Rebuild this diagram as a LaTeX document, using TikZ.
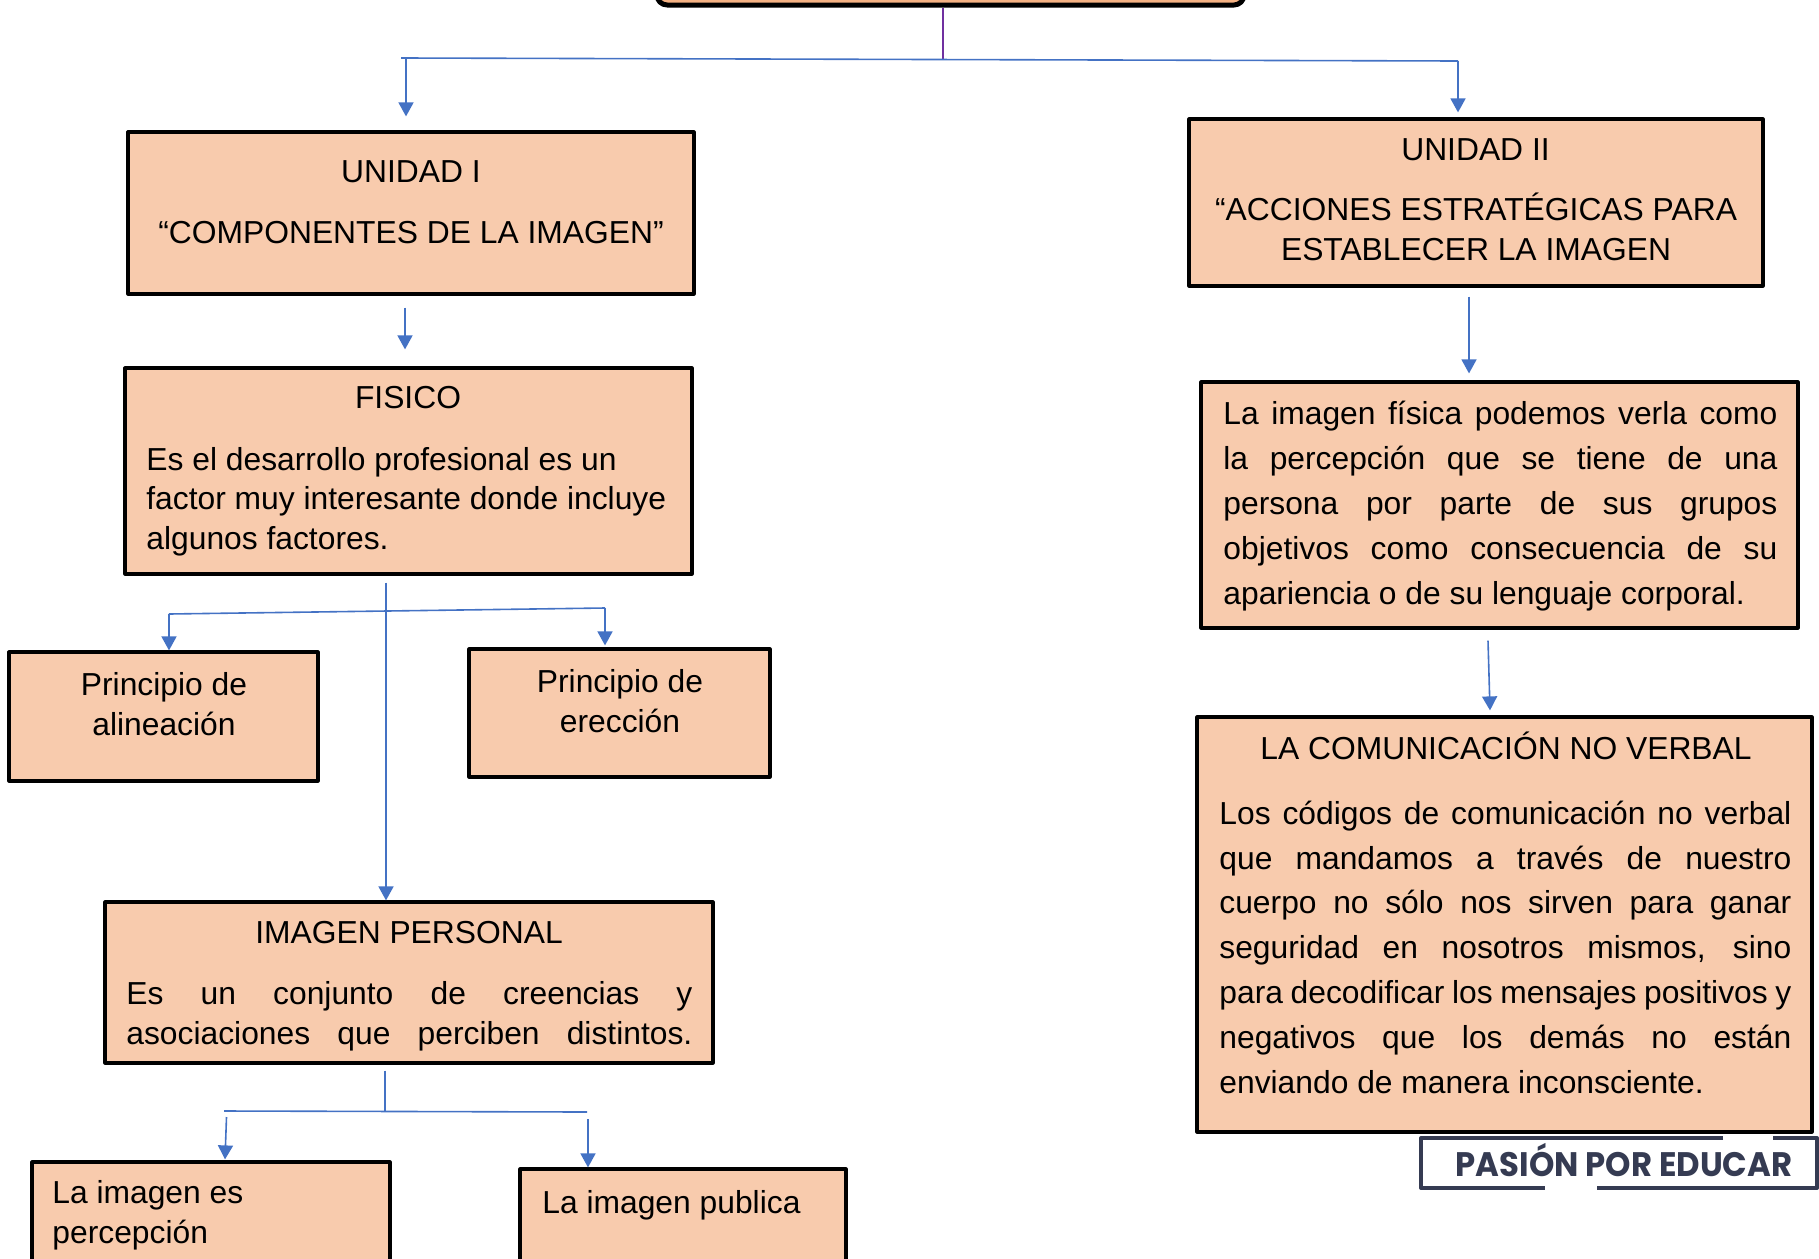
\documentclass[tikz,border=0pt]{standalone}
\usepackage{graphicx}
\usepackage{fontspec}
\setmainfont{Liberation Sans}
\newfontfamily\logofont{Poppins}
\usetikzlibrary{arrows.meta,positioning}
\definecolor{colcaja}{HTML}{F8CBAD}
\definecolor{colraiz}{HTML}{F4B183}
\definecolor{azul}{HTML}{4472C4}
\definecolor{morado}{HTML}{7030A0}
\definecolor{logoazul}{HTML}{353B52}
\newcommand\fs{\fontsize{15.9}{19.75}\selectfont}
\newcommand\fsr{\fontsize{15.9}{22.4}\selectfont}
\newcommand\jl[2]{\makebox[#1][s]{#2}}
\tikzset{
	caja/.style={draw=black, line width=1.6pt, fill=colcaja, inner sep=0pt, rectangle},
	titulo/.style={font=\fs, inner sep=0pt, anchor=base, align=center},
	texto/.style={font=\fs, inner sep=0pt, anchor=base west, align=left},
	textor/.style={font=\fsr, inner sep=0pt, anchor=base west, align=left},
	enlace/.style={draw=azul, line width=0.8pt},
	flecha/.style={enlace, -{Triangle[width=7.5pt,length=7pt]}},
	marco/.style={draw=logoazul, line width=2pt},
}
\begin{document}
\begin{tikzpicture}[x=0.5pt, y=-0.5pt, line join=round]
	\useasboundingbox (0,0) rectangle (1819,1258);
	\clip (0,0) rectangle (1819,1258);
	% caja superior (solo se ve su borde inferior)
	\node[caja, fill=colraiz, line width=2.5pt, rounded corners=5pt, minimum width=293.5pt, minimum height=32.5pt] (raiz) at (950.5,-27.5) {};
	% unidades (textos de varias lineas: ancla en la ultima linea)
	\node[caja, minimum width=283pt, minimum height=81pt] (u1) at (411,213) {};
	\node[titulo] (u1a) at (411,182) {UNIDAD I};
	\node[titulo] (u1b) at (411,243) {“COMPONENTES DE LA IMAGEN”};
	\node[caja, minimum width=287pt, minimum height=83.5pt] (u2) at (1476,202.5) {};
	\node[titulo] (u2a) at (1475.5,160) {UNIDAD II};
	\node[titulo] (u2b) at (1476,260) {“ACCIONES ESTRATÉGICAS PARA\\ESTABLECER LA IMAGEN};
	% rama izquierda
	\node[caja, minimum width=283.5pt, minimum height=103pt] (fis) at (408.5,471) {};
	\node[titulo] (fisa) at (408,408) {FISICO};
	\node[texto] (fisb) at (146,549) {Es el desarrollo profesional es un\\factor muy interesante donde incluye\\algunos factores.};
	\node[caja, minimum width=154.5pt, minimum height=64.5pt] (ali) at (163.5,716.5) {};
	\node[titulo] (alia) at (164,735) {Principio de\\alineación};
	\node[caja, minimum width=150.5pt, minimum height=64pt] (ere) at (619.5,713) {};
	\node[titulo] (erea) at (620,732) {Principio de\\erección};
	\node[caja, minimum width=304pt, minimum height=80.5pt] (ip) at (409,982.5) {};
	\node[titulo] (ipa) at (409,943) {IMAGEN PERSONAL};
	\node[texto] (ipb) at (126,1044) {\jl{283pt}{Es un conjunto de creencias y}\\\jl{283pt}{asociaciones que perciben distintos.}};
	\node[caja, minimum width=179pt, minimum height=69pt] (per) at (211,1231) {};
	\node[texto] (pera) at (52,1243) {La imagen es\\percepción};
	\node[caja, minimum width=163pt, minimum height=65.5pt] (pub) at (683,1234.5) {};
	\node[texto] (puba) at (542,1213) {La imagen publica};
	% rama derecha
	\node[caja, minimum width=298.5pt, minimum height=123pt] (r1) at (1499.5,505) {};
	\node[textor] (r1a) at (1223,604) {\jl{277pt}{La imagen física podemos verla como}\\\jl{277pt}{la percepción que se tiene de una}\\\jl{277pt}{persona por parte de sus grupos}\\\jl{277pt}{objetivos como consecuencia de su}\\apariencia o de su lenguaje corporal.};
	\node[caja, minimum width=307.5pt, minimum height=207.5pt] (r2) at (1504.5,924.5) {};
	\node[titulo] (r2a) at (1506,759) {LA COMUNICACIÓN NO VERBAL};
	\node[textor] (r2b) at (1219,1093) {\jl{286pt}{Los códigos de comunicación no verbal}\\\jl{286pt}{que mandamos a través de nuestro}\\\jl{286pt}{cuerpo no sólo nos sirven para ganar}\\\jl{286pt}{seguridad en nosotros mismos, sino}\\\jl{286pt}{para decodificar los mensajes positivos y}\\\jl{286pt}{negativos que los demás no están}\\enviando de manera inconsciente.};
	% conectores
	\coordinate (hm) at (943,59.5);
	\coordinate (ha) at (401,58);
	\coordinate (hb) at (1458,61);
	\draw[draw=morado, line width=0.6pt] (raiz.south -| hm) -- (hm);
	\draw[enlace] (ha) -- (hb);
	\draw[flecha] ([xshift=2.5pt]ha) -- ([xshift=-2.5pt,yshift=7pt]u1.north);
	\draw[flecha] (hb) -- ([xshift=-9pt,yshift=2.5pt]u2.north);
	\draw[flecha] ([xshift=-3pt,yshift=-6pt]u1.south) -- ([xshift=-1.75pt,yshift=8.5pt]fis.north);
	\draw[flecha] ([xshift=-3.5pt,yshift=-4.5pt]u2.south) -- ([xshift=-15.25pt,yshift=3.5pt]r1.north);
	\draw[flecha] ([xshift=-5.75pt,yshift=-5.5pt]r1.south) -- ([xshift=-7.25pt,yshift=2.5pt]r2.north);
	\coordinate (ba) at (169,614);
	\coordinate (bb) at (605,608);
	\draw[flecha] ([xshift=-11.25pt,yshift=-3.5pt]fis.south) -- ([xshift=-11.5pt]ip.north);
	\draw[enlace] (ba) -- (bb);
	\draw[flecha] (ba) -- ([xshift=2.75pt]ali.north);
	\draw[flecha] (bb) -- ([xshift=-7.25pt,yshift=1pt]ere.north);
	\coordinate (ca) at (224,1111);
	\coordinate (cb) at (587,1112);
	\draw[enlace] ([xshift=-12pt,yshift=-3pt]ip.south) -- ([xshift=-12pt]ip.south |- ca);
	\draw[enlace] (ca) -- (cb);
	\draw[flecha] ([xshift=1.25pt,yshift=-3pt]ca) -- ([xshift=7pt,yshift=0.5pt]per.north);
	\draw[flecha] ([xshift=0.5pt,yshift=-3.5pt]cb) -- ([xshift=-47.5pt]pub.north);
	% logo
	\draw[marco] (1723,1138) -- (1421,1138) -- (1421,1188) -- (1545,1188);
	\draw[marco] (1597,1188) -- (1817,1188) -- (1817,1138) -- (1773,1138);
	\node[inner sep=0pt, anchor=base, text=logoazul] (pasion) at (1624,1176) {\scalebox{0.95}[1]{\fontsize{17}{17}\logofont\bfseries PASIÓN POR EDUCAR}};
\end{tikzpicture}
\end{document}
